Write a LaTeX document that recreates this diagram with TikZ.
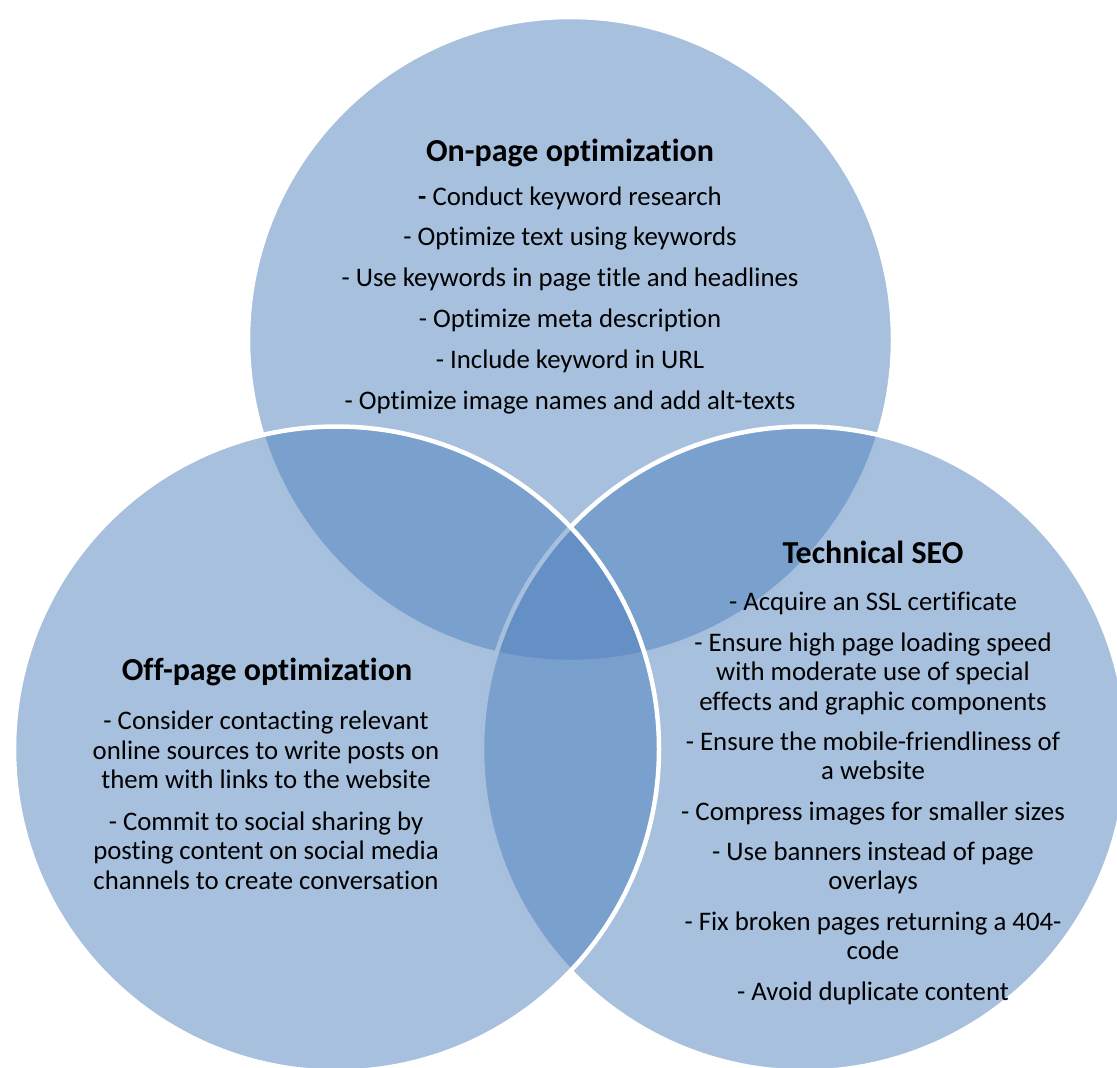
\documentclass[tikz,border=0pt]{standalone}
\usepackage{fontspec}
\setmainfont{Carlito}[Ligatures=NoCommon]
\definecolor{vennblue}{HTML}{4F81BD}
\begin{document}
\begin{tikzpicture}[x=1pt,y=-1pt,
  venn/.style={circle, inner sep=0pt, outer sep=0pt, minimum size=645pt,
    fill=vennblue, fill opacity=0.5, draw=white, draw opacity=1, line width=4.5pt},
  heading/.style={font=\fontsize{32}{36}\selectfont\bfseries, inner sep=0pt, anchor=base, text=black},
  % body blocks are placed by the baseline of their last line
  body/.style={font=\fontsize{26.8}{29.5}\selectfont, align=center, inner sep=0pt, anchor=base, text=black}
]
\useasboundingbox (0,0) rectangle (1117,1068);
\clip (0,0) rectangle (1117,1068);

% the three overlapping sets, later ones laid over earlier ones
\node[venn] (onpage)  at (570.5,339.5) {};
\node[venn] (tech)    at (804.5,749) {};
\node[venn] (offpage) at (336.5,749) {};

% on-page set
\node[heading] (onTitle) at (570,161) {On-page optimization};
\node[body] (onText) at (570,409) {%
  \textbf{-} Conduct keyword research\\[11.3pt]
  - Optimize text using keywords\\[11.3pt]
  - Use keywords in page title and headlines\\[11.3pt]
  - Optimize meta description\\[11.3pt]
  - Include keyword in URL\\[11.3pt]
  - Optimize image names and add alt-texts};

% off-page set
\node[heading] (offTitle) at (267,680) {Off-page optimization};
\node[body] (offText) at (266,889) {%
  - Consider contacting relevant\\
  online sources to write posts on\\
  them with links to the website\\[12pt]
  - Commit to social sharing by\\
  posting content on social media\\
  channels to create conversation};

% technical set
\node[heading] (techTitle) at (873,563) {Technical SEO};
\node[body] (techText) at (873,1000) {%
  - Acquire an SSL certificate\\[10.8pt]
  - Ensure high page loading speed\\
  with moderate use of special\\
  effects and graphic components\\[10.8pt]
  - Ensure the mobile-friendliness of\\
  a website\\[10.8pt]
  - Compress images for smaller sizes\\[10.8pt]
  - Use banners instead of page\\
  overlays\\[10.8pt]
  - Fix broken pages returning a 404-\\
  code\\[10.8pt]
  - Avoid duplicate content};
\end{tikzpicture}
\end{document}
